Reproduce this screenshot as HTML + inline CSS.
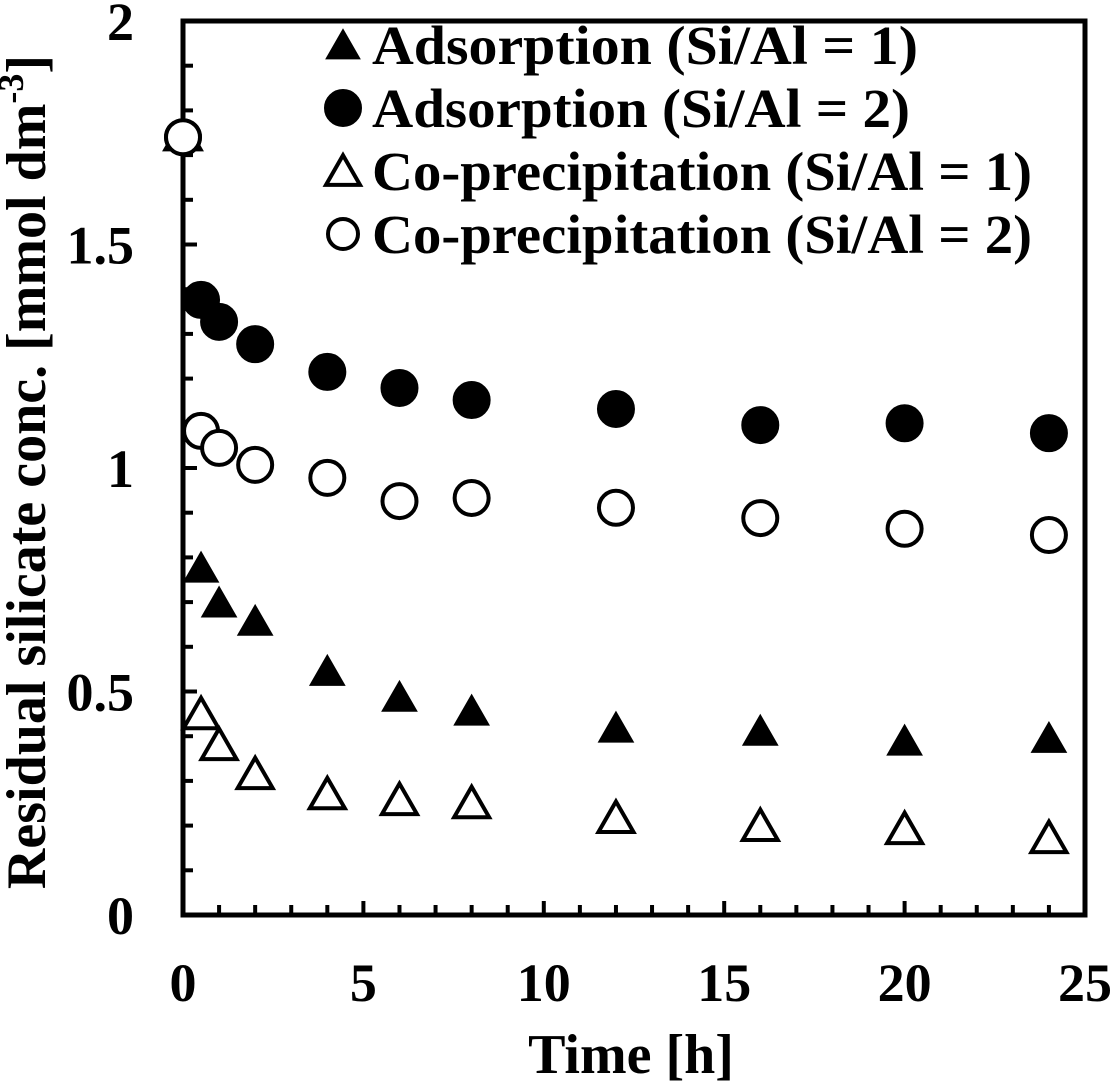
<!DOCTYPE html>
<html><head><meta charset="utf-8"><style>
html,body{margin:0;padding:0;background:#fff;}
svg{display:block;font-family:"Liberation Serif",serif;font-weight:bold;}
</style></head><body>
<svg id="chart" width="1112" height="1085" viewBox="0 0 1112 1085" xmlns="http://www.w3.org/2000/svg">
<g id="axes"></g>
<g id="marks"></g>
<g id="legend"></g>
<text x="631" y="1073" font-size="56" text-anchor="middle">Time [h]</text>
<text transform="translate(45,472) rotate(-90)" font-size="56" text-anchor="middle">Residual silicate conc. [mmol dm<tspan dy="-22" font-size="36">-3</tspan><tspan dy="22">]</tspan></text>
</svg>
<script>
const times = [0, 0.5, 1, 2, 4, 6, 8, 12, 16, 20, 24];
const adsSi1 = [1.74, 0.772, 0.694, 0.653, 0.541, 0.483, 0.452, 0.414, 0.407, 0.385, 0.391];
const adsSi2 = [1.74, 1.376, 1.327, 1.277, 1.215, 1.179, 1.152, 1.132, 1.096, 1.100, 1.078];
const coSi1 = [1.74, 0.445, 0.376, 0.311, 0.266, 0.253, 0.246, 0.213, 0.195, 0.188, 0.168];
const coSi2 = [1.74, 1.083, 1.045, 1.007, 0.978, 0.926, 0.933, 0.911, 0.888, 0.864, 0.850];
const xTickLabels = ["0", "5", "10", "15", "20", "25"];
const yTickLabels = ["0", "0.5", "1", "1.5", "2"];
const legendLabels = ["Adsorption (Si/Al = 1)", "Adsorption (Si/Al = 2)", "Co-precipitation (Si/Al = 1)", "Co-precipitation (Si/Al = 2)"];

const NS = "http://www.w3.org/2000/svg";
const X0 = 183, X1 = 1085, Y0 = 915, Y1 = 21;
const xs = v => X0 + v / 25 * (X1 - X0);
const ys = v => Y0 - v / 2 * (Y0 - Y1);
function mk(tag, attrs, parent) {
  const e = document.createElementNS(NS, tag);
  for (const k in attrs) e.setAttribute(k, attrs[k]);
  parent.appendChild(e);
  return e;
}
const axes = document.getElementById("axes");
const frame = mk("rect", {x: X0, y: Y1, width: X1 - X0, height: Y0 - Y1, fill: "none", stroke: "#000", "stroke-width": 5}, axes);


for (let i = 1; i < 25; i++) {
  const len = i % 5 === 0 ? 14 : 10;
  const t = mk("line", {x1: xs(i), x2: xs(i), y1: Y0, y2: Y0 - len, stroke: "#000", "stroke-width": 4}, axes);
  
  
}
for (let i = 1; i < 20; i++) {
  const len = i % 5 === 0 ? 14 : 10;
  const t = mk("line", {x1: X0, x2: X0 + len, y1: ys(i / 10), y2: ys(i / 10), stroke: "#000", "stroke-width": 4}, axes);
  
  
}
xTickLabels.forEach(l => {
  const t = mk("text", {x: xs(parseFloat(l)), y: 1001, "font-size": 54, "text-anchor": "middle"}, axes);
  t.textContent = l;
  
  
});
yTickLabels.forEach(l => {
  const t = mk("text", {x: 134, y: ys(parseFloat(l)) + 19, "font-size": 54, "text-anchor": "end"}, axes);
  t.textContent = l;
  
  
});

function tri(parent, cx, cy, s, filled) {
  const h = s * 0.87;
  const p = `${cx},${cy - h * 0.6} ${cx - s / 2},${cy + h * 0.4} ${cx + s / 2},${cy + h * 0.4}`;
  return mk("polygon", {points: p, fill: filled ? "#000" : "#fff", stroke: "#000", "stroke-width": filled ? 1 : 4, "stroke-linejoin": "miter"}, parent);
}
function circ(parent, cx, cy, r, filled) {
  return mk("circle", {cx: cx, cy: cy, r: r, fill: filled ? "#000" : "#fff", stroke: "#000", "stroke-width": 4}, parent);
}
const marks = document.getElementById("marks");
times.forEach((t, i) => {
  const a = tri(marks, xs(t), ys(adsSi1[i]), 35, true);
  
  
});
times.forEach((t, i) => {
  const a = tri(marks, xs(t), ys(coSi1[i]), 35, false);
  
  
});
times.forEach((t, i) => {
  const a = circ(marks, xs(t), ys(adsSi2[i]), 17, true);
  
  
});
times.forEach((t, i) => {
  const a = circ(marks, xs(t), ys(coSi2[i]), 17, false);
  
  
});

const legend = document.getElementById("legend");
const rowY = [45, 108, 171, 234];
const widths = [546, 538, 660, 660];
legendLabels.forEach((l, i) => {
  const g = mk("g", {}, legend);
  
  
  if (i === 0) tri(g, 343, rowY[i] + 2, 34, true);
  if (i === 1) circ(g, 343, rowY[i], 17, true);
  if (i === 2) tri(g, 343, rowY[i] + 2, 34, false);
  if (i === 3) circ(g, 343, rowY[i], 15, false);
  const t = mk("text", {x: 372, y: rowY[i] + 19, "font-size": 55, textLength: widths[i], lengthAdjust: "spacingAndGlyphs"}, g);
  t.textContent = l;
  
  
});
</script>
</body></html>
